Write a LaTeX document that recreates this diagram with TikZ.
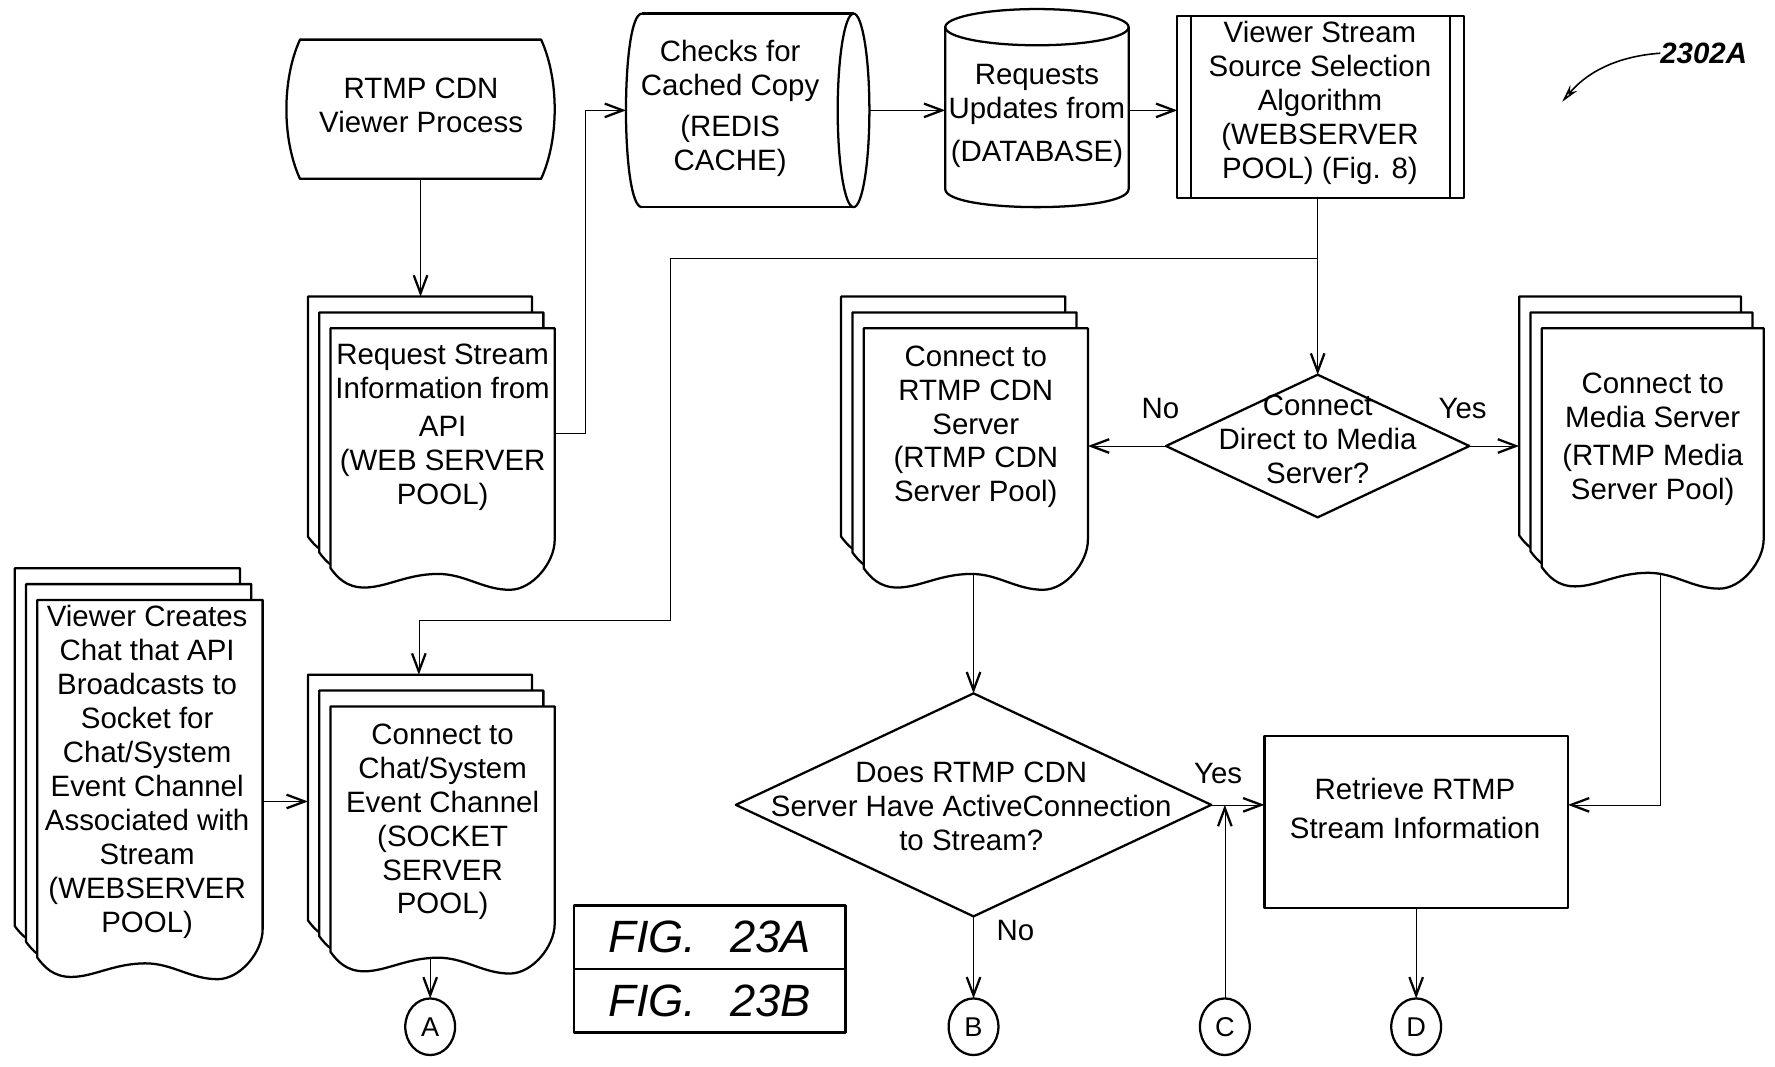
\documentclass[tikz,border=0pt]{standalone}
\usepackage{fontspec}
\setmainfont{Liberation Sans}
\usetikzlibrary{arrows.meta,shapes.geometric}
\pgfdeclarelayer{bg}
\pgfsetlayers{bg,main}
\newcommand\docsheet[4]{%
  \pgfmathsetmacro\docL{#1}\pgfmathsetmacro\docT{#2}%
  \pgfmathsetmacro\docR{#3}\pgfmathsetmacro\docB{#4}%
  \pgfmathsetmacro\docW{\docR-\docL}%
  \filldraw[sheet] (\docL,\docT) -- (\docR,\docT) -- (\docR,\docB-25)
    .. controls (\docR,\docB-5) and ({\docL+0.9*\docW},\docB+19) .. ({\docL+0.8*\docW},\docB+19)
    .. controls ({\docL+0.68*\docW},\docB+19) and ({\docL+0.6*\docW},\docB+5) .. ({\docL+0.48*\docW},\docB+5)
    .. controls ({\docL+0.34*\docW},\docB+5) and ({\docL+0.25*\docW},\docB+17) .. ({\docL+0.15*\docW},\docB+17)
    .. controls ({\docL+0.07*\docW},\docB+17) and ({\docL+0.03*\docW},\docB+8) .. (\docL,\docB) -- cycle;}
\newcommand\multidoc[4]{%
  \docsheet{#1-20}{#2-28}{#3-20}{#4-28}%
  \docsheet{#1-10}{#2-14}{#3-10}{#4-14}%
  \docsheet{#1}{#2}{#3}{#4}}
\begin{document}
\begin{tikzpicture}[x=1pt,y=-1pt,line width=2pt,line join=round,
  every node/.style={inner sep=0pt,outer sep=0pt},
  txt/.style={align=center,font=\fontsize{26}{30}\selectfont},
  lett/.style={ellipse,draw,minimum width=44,minimum height=50,font=\fontsize{24}{28}\selectfont},
  figtxt/.style={draw,minimum width=240,minimum height=56,font=\fontsize{40}{42}\selectfont\itshape},
  arr/.style={-{Straight Barb[length=16pt,width=12pt,line width=2pt]}},
  sheet/.style={draw,fill=white}]
\useasboundingbox (0,0) rectangle (1568,942);

% terminal
\draw (265,35) -- (478,35) .. controls (494,70) and (494,123) .. (478,158) -- (265,158) .. controls (249,123) and (249,70) .. (265,35) -- cycle;
\node[minimum width=237,minimum height=123] (term) at (371.5,96.5) {};
\node[txt] (termtxt) at (372,93) {RTMP CDN\\Viewer Process};

% REDIS cylinder
\draw (567,12) -- (754,12) (567,183) -- (754,183);
\draw (754,97.5) ellipse [x radius=14, y radius=85.5];
\draw (567,12) .. controls (548.3,12) and (548.3,183) .. (567,183);
\node[minimum width=215,minimum height=171] (redis) at (660.5,97.5) {};
\node[txt] (redistxt) at (645,96) {Checks for\\Cached Copy\\[6pt](REDIS\\CACHE)};

% database cylinder
\draw (916,24) ellipse [x radius=81, y radius=16];
\draw (835,24) -- (835,167) .. controls (835,188.3) and (997,188.3) .. (997,167) -- (997,24);
\node[minimum width=162,minimum height=175] (db) at (916,95.5) {};
\node[txt] (dbtxt) at (916,102) {Requests\\Updates from\\[8pt](DATABASE)};

% predefined process
\node[draw,minimum width=253,minimum height=161] (alg) at (1166.5,94.5) {};
\draw (1052,14) -- (1052,175) (1281,14) -- (1281,175);
\node[txt] (algtxt) at (1166,91) {Viewer Stream\\Source Selection\\Algorithm\\(WEBSERVER\\POOL) (Fig. 8)};

% reference label
\node[font=\fontsize{26}{30}\selectfont\bfseries\itshape] (refno) at (1505,47) {2302A};
\draw[-{Stealth[open,length=16pt,width=8pt]},line width=1.4pt] (refno.west) .. controls (1425,50) and (1400,66) .. (1380,90);

% multi documents
\multidoc{292}{290}{490}{502}
\node[minimum width=198,minimum height=212] (req) at (391,396) {};
\node[txt] (reqtxt) at (391,377.5) {Request Stream\\Information from\\[4pt]API\\(WEB SERVER\\POOL)};

\multidoc{292}{624}{490}{841}
\node[minimum width=198,minimum height=217] (chat) at (391,732.5) {};
\node[txt] (chattxt) at (391,726) {Connect to\\Chat/System\\Event Channel\\(SOCKET\\SERVER\\POOL)};

\multidoc{33}{530}{232}{846}
\node[minimum width=199,minimum height=316] (viewer) at (132.5,688) {};
\node[txt] (viewertxt) at (130,682) {Viewer Creates\\Chat that API\\Broadcasts to\\Socket for\\Chat/System\\Event Channel\\Associated with\\Stream\\(WEBSERVER\\POOL)};

\multidoc{763}{290}{961}{502}
\node[minimum width=198,minimum height=212] (cdn) at (862,396) {};
\node[txt] (cdntxt) at (862,377) {Connect to\\RTMP CDN\\Server\\(RTMP CDN\\Server Pool)};

\multidoc{1362}{290}{1558}{501}
\node[minimum width=196,minimum height=211] (media) at (1460,395.5) {};
\node[txt] (mediatxt) at (1460,388) {Connect to\\Media Server\\[4pt](RTMP Media\\Server Pool)};

% decisions
\node[diamond,draw,minimum width=268,minimum height=126] (d1) at (1164,394) {};
\node[txt] (d1txt) at (1164,388.5) {Connect\\Direct to Media\\Server?};
\node[diamond,draw,minimum width=420,minimum height=197] (d2) at (860,711) {};
\node[txt] (d2txt) at (858,712) {Does RTMP CDN\\Server Have ActiveConnection\\to Stream?};

\node[txt] (no1) at (1025,361) {No};
\node[txt] (yes1) at (1292,361) {Yes};
\node[txt] (yes2) at (1076,683) {Yes};
\node[txt] (no2) at (897,822) {No};

% retrieve
\node[draw,minimum width=268,minimum height=152] (ret) at (1251,726) {};
\node[txt] (rettxt) at (1250,714) {Retrieve RTMP\\[4pt]Stream Information};

% off-page connectors
\node[lett] (cA) at (380,907) {A};
\node[lett] (cB) at (860,907) {B};
\node[lett] (cC) at (1082,907) {C};
\node[lett] (cD) at (1251,907) {D};

% figure box
\node[figtxt] (figA) at (627,828) {FIG.\hspace{30pt}23A};
\node[figtxt] (figB) at (627,884) {FIG.\hspace{30pt}23B};

\coordinate (reqtop) at (371.5,262);
\coordinate (chattop) at (370,596);
\coordinate (chatw) at (272,708);
\coordinate (mediaw) at (1342,394);
\coordinate (j1) at (1164,228);

\begin{pgfonlayer}{bg}
\draw[arr] (term.south) -- (reqtop);
\draw[arr] ([yshift=13pt]req.east) -- ++(27,0) |- (redis.west);
\draw[arr] (redis.east) -- (redis.east -| db.west);
\draw[arr] (redis.east -| db.east) -- (redis.east -| alg.west);
\draw (alg.south -| j1) -- (j1);
\draw[arr] (j1) -- (d1.north);
\draw[arr] (j1) -| (592,548) -| (chattop);
\draw[arr] (d1.west) -- (d1.west -| cdn.east);
\draw[arr] (d1.east) -- (mediaw);
\draw[arr] (cdn.south -| d2.north) -- (d2.north);
\draw[arr] (d2.east) -- (d2.east -| ret.west);
\draw[arr] (cC) -- (cC |- d2.east);
\draw[arr] ([xshift=7pt]media.south) |- (ret.east |- d2.east);
\draw[arr] (ret.south -| cD) -- (cD);
\draw[arr] (d2.south) -- (cB);
\draw[arr] (cA |- chat.south) -- (cA);
\draw[arr] (viewer.east |- chatw) -- (chatw);
\end{pgfonlayer}
\end{tikzpicture}
\end{document}
